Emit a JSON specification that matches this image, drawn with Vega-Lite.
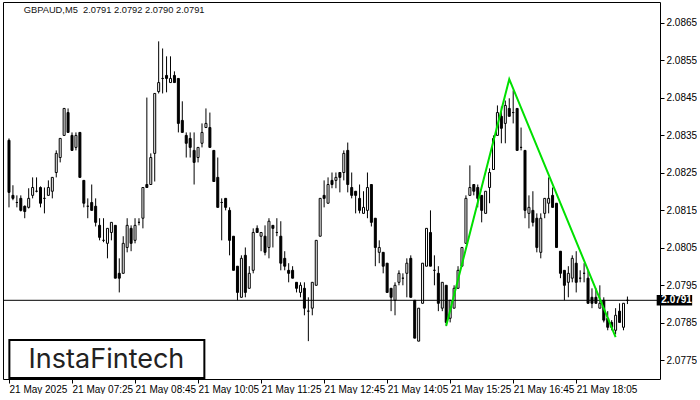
{
"$schema": "https://vega.github.io/schema/vega-lite/v6.json",
"width": 657, "height": 377,
"padding": {"left": 2, "top": 2, "right": 0, "bottom": 0},
"background": "white",
"config": {"view": {"stroke": "black", "strokeWidth": 1}, "font": "Liberation Sans"},
"datasets": {
"candles": [
{"i":0,"o":2.08337,"h":2.08342,"l":2.08158,"c":2.08198},
{"i":1,"o":2.0819,"h":2.08217,"l":2.08177,"c":2.08182},
{"i":2,"o":2.08171,"h":2.0819,"l":2.08158,"c":2.08171},
{"i":3,"o":2.08182,"h":2.0819,"l":2.08147,"c":2.0815},
{"i":4,"o":2.08161,"h":2.08163,"l":2.08129,"c":2.08147},
{"i":5,"o":2.08158,"h":2.08209,"l":2.08155,"c":2.08182},
{"i":6,"o":2.0819,"h":2.08238,"l":2.08182,"c":2.08211},
{"i":7,"o":2.08201,"h":2.08238,"l":2.08198,"c":2.08201},
{"i":8,"o":2.08211,"h":2.08214,"l":2.08158,"c":2.08169},
{"i":9,"o":2.08182,"h":2.08211,"l":2.08142,"c":2.08182},
{"i":10,"o":2.0819,"h":2.0823,"l":2.0819,"c":2.08211},
{"i":11,"o":2.08201,"h":2.08238,"l":2.08182,"c":2.08238},
{"i":12,"o":2.08251,"h":2.0831,"l":2.08238,"c":2.08302},
{"i":13,"o":2.08291,"h":2.08342,"l":2.08278,"c":2.08342},
{"i":14,"o":2.0835,"h":2.08422,"l":2.0835,"c":2.08422},
{"i":15,"o":2.08411,"h":2.08422,"l":2.08358,"c":2.08358},
{"i":16,"o":2.0835,"h":2.08358,"l":2.0831,"c":2.0831},
{"i":17,"o":2.08318,"h":2.08358,"l":2.0831,"c":2.0835},
{"i":18,"o":2.08358,"h":2.08358,"l":2.08238,"c":2.08238},
{"i":19,"o":2.0823,"h":2.0823,"l":2.08158,"c":2.08169},
{"i":20,"o":2.08161,"h":2.08182,"l":2.08129,"c":2.08161},
{"i":21,"o":2.08171,"h":2.08219,"l":2.0815,"c":2.0815},
{"i":22,"o":2.08161,"h":2.08182,"l":2.08107,"c":2.08118},
{"i":23,"o":2.0811,"h":2.08129,"l":2.0807,"c":2.08078},
{"i":24,"o":2.0807,"h":2.08129,"l":2.08065,"c":2.0807},
{"i":25,"o":2.08062,"h":2.08102,"l":2.08022,"c":2.08102},
{"i":26,"o":2.08091,"h":2.08118,"l":2.0807,"c":2.08118},
{"i":27,"o":2.0811,"h":2.0811,"l":2.07969,"c":2.07969},
{"i":28,"o":2.07982,"h":2.08022,"l":2.07931,"c":2.07969},
{"i":29,"o":2.07982,"h":2.08081,"l":2.07982,"c":2.08062},
{"i":30,"o":2.08051,"h":2.08129,"l":2.08038,"c":2.0811},
{"i":31,"o":2.08102,"h":2.0811,"l":2.08041,"c":2.08062},
{"i":32,"o":2.0807,"h":2.08129,"l":2.08062,"c":2.0811},
{"i":33,"o":2.08118,"h":2.08129,"l":2.0811,"c":2.08118},
{"i":34,"o":2.08129,"h":2.08211,"l":2.08102,"c":2.08211},
{"i":35,"o":2.08219,"h":2.08451,"l":2.08211,"c":2.08211},
{"i":36,"o":2.08219,"h":2.08302,"l":2.08219,"c":2.08291},
{"i":37,"o":2.08302,"h":2.08462,"l":2.08227,"c":2.08462},
{"i":38,"o":2.08467,"h":2.08601,"l":2.08462,"c":2.08491},
{"i":39,"o":2.08502,"h":2.08582,"l":2.08462,"c":2.08502},
{"i":40,"o":2.0851,"h":2.08561,"l":2.08465,"c":2.08502},
{"i":41,"o":2.08491,"h":2.08561,"l":2.08491,"c":2.08502},
{"i":42,"o":2.0851,"h":2.08521,"l":2.08491,"c":2.08491},
{"i":43,"o":2.08502,"h":2.08502,"l":2.08358,"c":2.08382},
{"i":44,"o":2.0839,"h":2.08441,"l":2.08358,"c":2.08358},
{"i":45,"o":2.0835,"h":2.08358,"l":2.08291,"c":2.08329},
{"i":46,"o":2.08342,"h":2.08358,"l":2.08291,"c":2.08318},
{"i":47,"o":2.0831,"h":2.08358,"l":2.08219,"c":2.08278},
{"i":48,"o":2.08291,"h":2.08318,"l":2.08278,"c":2.08318},
{"i":49,"o":2.08329,"h":2.08382,"l":2.08318,"c":2.08358},
{"i":50,"o":2.08371,"h":2.08422,"l":2.08371,"c":2.08382},
{"i":51,"o":2.08371,"h":2.08411,"l":2.08318,"c":2.08318},
{"i":52,"o":2.0831,"h":2.0831,"l":2.08227,"c":2.08227},
{"i":53,"o":2.08238,"h":2.08291,"l":2.08158,"c":2.08158},
{"i":54,"o":2.08171,"h":2.08182,"l":2.0807,"c":2.08171},
{"i":55,"o":2.08182,"h":2.08182,"l":2.0815,"c":2.08158},
{"i":56,"o":2.0815,"h":2.08158,"l":2.0803,"c":2.0807},
{"i":57,"o":2.08081,"h":2.08081,"l":2.0799,"c":2.0799},
{"i":58,"o":2.08001,"h":2.08001,"l":2.0791,"c":2.07931},
{"i":59,"o":2.07918,"h":2.0803,"l":2.07918,"c":2.08022},
{"i":60,"o":2.0803,"h":2.08051,"l":2.07918,"c":2.07931},
{"i":61,"o":2.07942,"h":2.08001,"l":2.07942,"c":2.07982},
{"i":62,"o":2.0799,"h":2.08102,"l":2.07982,"c":2.08091},
{"i":63,"o":2.08102,"h":2.0811,"l":2.08091,"c":2.08091},
{"i":64,"o":2.08081,"h":2.08091,"l":2.08041,"c":2.08091},
{"i":65,"o":2.08081,"h":2.0811,"l":2.0803,"c":2.08038},
{"i":66,"o":2.08051,"h":2.08129,"l":2.08022,"c":2.08121},
{"i":67,"o":2.0811,"h":2.0811,"l":2.08051,"c":2.08102},
{"i":68,"o":2.08091,"h":2.08129,"l":2.08081,"c":2.08091},
{"i":69,"o":2.08081,"h":2.08121,"l":2.0799,"c":2.08009},
{"i":70,"o":2.08022,"h":2.08041,"l":2.0799,"c":2.08001},
{"i":71,"o":2.0799,"h":2.08009,"l":2.07958,"c":2.07982},
{"i":72,"o":2.0799,"h":2.08001,"l":2.07969,"c":2.07969},
{"i":73,"o":2.07958,"h":2.07958,"l":2.07931,"c":2.07942},
{"i":74,"o":2.07931,"h":2.07958,"l":2.07918,"c":2.0795},
{"i":75,"o":2.07942,"h":2.07958,"l":2.0787,"c":2.07889},
{"i":76,"o":2.07881,"h":2.07918,"l":2.07801,"c":2.07881},
{"i":77,"o":2.07889,"h":2.07958,"l":2.0787,"c":2.07958},
{"i":78,"o":2.0795,"h":2.0807,"l":2.0795,"c":2.0807},
{"i":79,"o":2.08081,"h":2.08182,"l":2.08081,"c":2.08182},
{"i":80,"o":2.0819,"h":2.0823,"l":2.08158,"c":2.08182},
{"i":81,"o":2.08169,"h":2.08238,"l":2.08169,"c":2.08219},
{"i":82,"o":2.0823,"h":2.08251,"l":2.08209,"c":2.08219},
{"i":83,"o":2.0823,"h":2.08251,"l":2.08209,"c":2.08238},
{"i":84,"o":2.08251,"h":2.08251,"l":2.08198,"c":2.08238},
{"i":85,"o":2.08251,"h":2.0831,"l":2.0823,"c":2.08302},
{"i":86,"o":2.0831,"h":2.08331,"l":2.08198,"c":2.08219},
{"i":87,"o":2.08211,"h":2.08251,"l":2.08182,"c":2.0819},
{"i":88,"o":2.08201,"h":2.08201,"l":2.08142,"c":2.0819},
{"i":89,"o":2.08182,"h":2.08219,"l":2.08142,"c":2.0815},
{"i":90,"o":2.08142,"h":2.08201,"l":2.08142,"c":2.08158},
{"i":91,"o":2.0815,"h":2.08251,"l":2.08129,"c":2.08211},
{"i":92,"o":2.08219,"h":2.08219,"l":2.08107,"c":2.08118},
{"i":93,"o":2.08129,"h":2.08129,"l":2.08001,"c":2.08051},
{"i":94,"o":2.08038,"h":2.0807,"l":2.08009,"c":2.08051},
{"i":95,"o":2.08038,"h":2.08038,"l":2.07982,"c":2.08001},
{"i":96,"o":2.08009,"h":2.08009,"l":2.07931,"c":2.07931},
{"i":97,"o":2.07942,"h":2.07942,"l":2.07881,"c":2.07918},
{"i":98,"o":2.0791,"h":2.07958,"l":2.0787,"c":2.0795},
{"i":99,"o":2.07958,"h":2.0799,"l":2.0795,"c":2.07982},
{"i":100,"o":2.07969,"h":2.07982,"l":2.0795,"c":2.07969},
{"i":101,"o":2.07982,"h":2.08022,"l":2.07918,"c":2.08009},
{"i":102,"o":2.08022,"h":2.0803,"l":2.07918,"c":2.07918},
{"i":103,"o":2.0791,"h":2.0791,"l":2.07809,"c":2.07809},
{"i":104,"o":2.07801,"h":2.07889,"l":2.07801,"c":2.07889},
{"i":105,"o":2.07902,"h":2.08009,"l":2.07902,"c":2.08009},
{"i":106,"o":2.08001,"h":2.08102,"l":2.08001,"c":2.08102},
{"i":107,"o":2.08091,"h":2.0815,"l":2.08001,"c":2.08001},
{"i":108,"o":2.0799,"h":2.0803,"l":2.0795,"c":2.0799},
{"i":109,"o":2.07982,"h":2.08001,"l":2.07881,"c":2.07902},
{"i":110,"o":2.07889,"h":2.07958,"l":2.07881,"c":2.07958},
{"i":111,"o":2.0795,"h":2.0795,"l":2.07841,"c":2.07851},
{"i":112,"o":2.07862,"h":2.0791,"l":2.07851,"c":2.0791},
{"i":113,"o":2.07889,"h":2.0795,"l":2.07889,"c":2.07942},
{"i":114,"o":2.07942,"h":2.08001,"l":2.07942,"c":2.0799},
{"i":115,"o":2.08001,"h":2.08051,"l":2.08001,"c":2.08051},
{"i":116,"o":2.08062,"h":2.0819,"l":2.08062,"c":2.08182},
{"i":117,"o":2.0819,"h":2.0827,"l":2.0819,"c":2.08211},
{"i":118,"o":2.08219,"h":2.08219,"l":2.0819,"c":2.08201},
{"i":119,"o":2.08211,"h":2.08219,"l":2.08158,"c":2.08182},
{"i":120,"o":2.0819,"h":2.0819,"l":2.08118,"c":2.0815},
{"i":121,"o":2.08142,"h":2.08201,"l":2.08142,"c":2.08201},
{"i":122,"o":2.08211,"h":2.08262,"l":2.08169,"c":2.08251},
{"i":123,"o":2.08259,"h":2.0835,"l":2.08259,"c":2.08342},
{"i":124,"o":2.0835,"h":2.0843,"l":2.0835,"c":2.08411},
{"i":125,"o":2.08401,"h":2.08427,"l":2.08329,"c":2.08369},
{"i":126,"o":2.08382,"h":2.08443,"l":2.08329,"c":2.0843},
{"i":127,"o":2.08422,"h":2.08449,"l":2.08401,"c":2.08401},
{"i":128,"o":2.08411,"h":2.0847,"l":2.08382,"c":2.08411},
{"i":129,"o":2.08422,"h":2.08422,"l":2.0831,"c":2.0831},
{"i":130,"o":2.08318,"h":2.08371,"l":2.0831,"c":2.08318},
{"i":131,"o":2.0831,"h":2.0831,"l":2.08129,"c":2.0815},
{"i":132,"o":2.08142,"h":2.0819,"l":2.08102,"c":2.08158},
{"i":133,"o":2.0815,"h":2.08201,"l":2.08107,"c":2.08118},
{"i":134,"o":2.08129,"h":2.08142,"l":2.08038,"c":2.08051},
{"i":135,"o":2.08038,"h":2.08142,"l":2.08022,"c":2.08129},
{"i":136,"o":2.08142,"h":2.08182,"l":2.08129,"c":2.08182},
{"i":137,"o":2.08169,"h":2.08238,"l":2.08142,"c":2.08182},
{"i":138,"o":2.0819,"h":2.08211,"l":2.08158,"c":2.08158},
{"i":139,"o":2.08169,"h":2.08169,"l":2.08051,"c":2.08051},
{"i":140,"o":2.08041,"h":2.08041,"l":2.07969,"c":2.07982},
{"i":141,"o":2.0799,"h":2.0799,"l":2.0791,"c":2.0795},
{"i":142,"o":2.07958,"h":2.08001,"l":2.07918,"c":2.07982},
{"i":143,"o":2.07969,"h":2.0803,"l":2.07958,"c":2.08022},
{"i":144,"o":2.08009,"h":2.08041,"l":2.07931,"c":2.07958},
{"i":145,"o":2.07969,"h":2.0799,"l":2.07958,"c":2.07969},
{"i":146,"o":2.07982,"h":2.08009,"l":2.07958,"c":2.07982},
{"i":147,"o":2.07969,"h":2.0799,"l":2.07902,"c":2.07902},
{"i":148,"o":2.07918,"h":2.07942,"l":2.07889,"c":2.07902},
{"i":149,"o":2.07918,"h":2.07942,"l":2.07902,"c":2.07902},
{"i":150,"o":2.07889,"h":2.0795,"l":2.07889,"c":2.07902},
{"i":151,"o":2.0791,"h":2.07918,"l":2.07851,"c":2.07857},
{"i":152,"o":2.07862,"h":2.07881,"l":2.0783,"c":2.07838},
{"i":153,"o":2.07851,"h":2.07857,"l":2.0783,"c":2.07838},
{"i":154,"o":2.0783,"h":2.07889,"l":2.07819,"c":2.0787},
{"i":155,"o":2.07881,"h":2.07902,"l":2.07851,"c":2.07851},
{"i":156,"o":2.07838,"h":2.07902,"l":2.0783,"c":2.07902},
{"i":157,"o":2.0791,"h":2.0792,"l":2.079,"c":2.0791}
],
"pattern": [
{"i":111,"p":2.07842},
{"i":127,"p":2.085},
{"i":154,"p":2.07812}
],
"current": [{"price": 2.0791, "label": "2.0791"}],
"info": [{"text": "GBPAUD,M5\u00a0\u00a02.0791 2.0792 2.0790 2.0791", "logo": "InstaFintech"}]
},
"layer": [
{
"data": {"name": "candles"},
"mark": {"type": "rule", "color": "black", "strokeWidth": 1},
"encoding": {
"x": {"field": "i", "type": "quantitative",
"scale": {"domain": [-0.25, 164], "nice": false, "zero": false},
"axis": {"title": null, "values": [0,16,32,48,64,80,96,112,128,144],
"labelExpr": "['21 May 2025','21 May 07:25','21 May 08:45','21 May 10:05','21 May 11:25','21 May 12:45','21 May 14:05','21 May 15:25','21 May 16:45','21 May 18:05'][round(datum.value/16)]",
"labelAlign": "left", "labelFlush": false, "labelOverlap": false, "grid": false, "domain": false,
"tickSize": 4, "tickColor": "black", "labelColor": "black", "labelFontSize": 10, "labelPadding": 1, "labelFont": "Liberation Sans"}},
"y": {"field": "l", "type": "quantitative",
"scale": {"domain": [2.077, 2.08706], "nice": false, "zero": false},
"axis": {"title": null, "orient": "right", "values": [2.0775,2.0785,2.0795,2.0805,2.0815,2.0825,2.0835,2.0845,2.0855,2.0865],
"format": ".4f", "grid": false, "domain": false, "tickSize": 4, "tickColor": "black", "labelColor": "black",
"labelFontSize": 10, "labelPadding": 2, "labelFont": "Liberation Sans"}},
"y2": {"field": "h"}
}
},
{
"data": {"name": "candles"},
"mark": {"type": "bar", "size": 2, "stroke": "black", "strokeWidth": 1},
"encoding": {
"x": {"field": "i", "type": "quantitative", "title": null},
"y": {"field": "o", "type": "quantitative", "title": null},
"y2": {"field": "c"},
"fill": {"condition": {"test": "datum.c >= datum.o", "value": "white"}, "value": "black"}
}
},
{
"data": {"name": "current"},
"mark": {"type": "rule", "color": "black", "strokeWidth": 1},
"encoding": {"y": {"field": "price", "type": "quantitative", "title": null}}
},
{
"data": {"name": "pattern"},
"mark": {"type": "line", "color": "#00e000", "strokeWidth": 2},
"encoding": {
"x": {"field": "i", "type": "quantitative", "title": null},
"y": {"field": "p", "type": "quantitative", "title": null}
}
},
{
"data": {"name": "current"},
"mark": {"type": "rect", "fill": "black"},
"encoding": {"x": {"datum": 164.43}, "x2": {"datum": 173.43}, "y": {"datum": 2.07924}, "y2": {"datum": 2.07896}}
},
{
"data": {"name": "current"},
"mark": {"type": "text", "color": "white", "fontSize": 10, "fontWeight": "bold", "align": "left", "baseline": "middle"},
"encoding": {"x": {"datum": 165.6}, "y": {"field": "price", "type": "quantitative", "title": null}, "text": {"field": "label"}}
},
{
"data": {"name": "info"},
"mark": {"type": "text", "color": "#111", "fontSize": 9.3, "align": "left", "baseline": "middle"},
"encoding": {"x": {"datum": 3.75}, "y": {"datum": 2.08684}, "text": {"field": "text"}}
},
{
"data": {"name": "info"},
"mark": {"type": "rect", "fill": "white", "stroke": "black", "strokeWidth": 2},
"encoding": {"x": {"datum": 0.1}, "x2": {"datum": 49.6}, "y": {"datum": 2.07804}, "y2": {"datum": 2.07703}}
},
{
"data": {"name": "info"},
"mark": {"type": "text", "color": "#222", "font": "Inter", "fontSize": 27, "fontWeight": 400, "align": "center", "baseline": "middle"},
"encoding": {"x": {"datum": 24.75}, "y": {"datum": 2.07751}, "text": {"field": "logo"}}
}
]
}
